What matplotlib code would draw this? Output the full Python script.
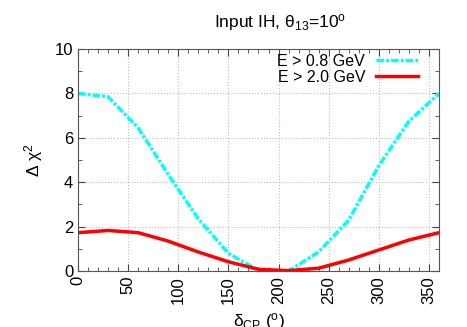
import numpy as np
import matplotlib
matplotlib.use('Agg')
import matplotlib.pyplot as plt
from matplotlib.ticker import MultipleLocator

plt.rcParams['font.family'] = ['Liberation Sans', 'DejaVu Sans']
plt.rcParams['mathtext.fontset'] = 'custom'
plt.rcParams['mathtext.rm'] = 'Liberation Sans'
plt.rcParams['mathtext.it'] = 'Liberation Sans:italic'

delta_cp = [0, 30, 60, 90, 120, 150, 180, 210, 240, 270, 300, 330, 360]
chi2_e08 = [8.0, 7.85, 6.45, 4.35, 2.35, 0.8, 0.02, 0.0, 0.87, 2.3, 4.75, 6.75, 8.0]
chi2_e20 = [1.73, 1.83, 1.73, 1.35, 0.86, 0.42, 0.08, 0.02, 0.13, 0.5, 0.95, 1.4, 1.73]

fig = plt.figure(figsize=(4.67, 3.27), dpi=100)
ax = fig.add_axes([0.167, 0.171, 0.773, 0.679])

ax.plot(delta_cp, chi2_e08, color='cyan', lw=2.5, linestyle=(0, (2.2, 0.6, 0.8, 0.6)),
        label='E > 0.8 GeV')
ax.plot(delta_cp, chi2_e20, color='red', lw=2.5, label='E > 2.0 GeV')

ax.set_xlim(0, 360)
ax.set_ylim(0, 10)
ax.xaxis.set_major_locator(MultipleLocator(50))
ax.xaxis.set_minor_locator(MultipleLocator(10))
ax.yaxis.set_major_locator(MultipleLocator(2))
ax.yaxis.set_minor_locator(MultipleLocator(1))
ax.tick_params(which='both', direction='in', top=True, right=True, colors='#444444',
               labelcolor='black', labelsize=12)
ax.tick_params(which='major', length=5)
ax.tick_params(which='minor', length=3)
for lab in ax.get_xticklabels():
    lab.set_rotation(90)
for s in ax.spines.values():
    s.set_color('#555555')
ax.grid(True, which='major', color='#bbbbbb', linestyle=':', lw=0.8)

ax.set_ylabel('Δ χ$^{2}$', fontsize=12.5, labelpad=7)
ax.set_xlabel('δ$_{\\rm CP}$ ($^{\\rm o}$)', fontsize=12.5, labelpad=5)
fig.text(280 / 467, 1 - 22 / 327, 'Input IH, θ$_{13}$=10$^{\\rm o}$', ha='center', va='center', fontsize=12.5)

ax.legend(loc='upper right', bbox_to_anchor=(0.955, 1.0), frameon=False, markerfirst=False,
          fontsize=11.5, handlelength=2.6, borderaxespad=0.1, labelspacing=0.05,
          handletextpad=0.7, borderpad=0.2)

fig.savefig('out.png', dpi=100)
